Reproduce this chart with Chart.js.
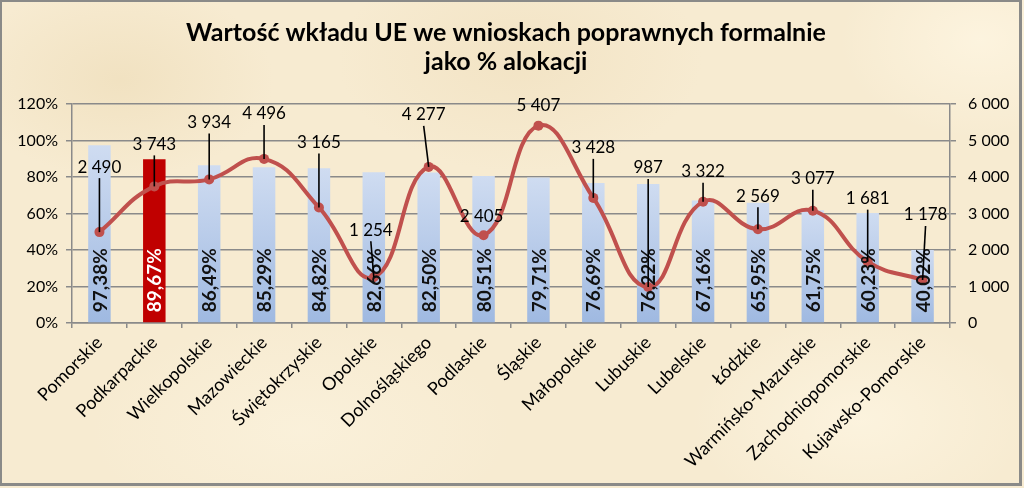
<!DOCTYPE html>
<html><head><meta charset="utf-8">
<script src="https://cdn.jsdelivr.net/npm/chart.js@4.4.1/dist/chart.umd.min.js"></script>
<style>
html,body{margin:0;padding:0;width:1024px;height:488px;overflow:hidden;}
body{
  background:
    radial-gradient(ellipse 220px 140px at 120px 80px, rgba(236,218,180,0.55), rgba(236,218,180,0) 70%),
    radial-gradient(ellipse 260px 160px at 520px 60px, rgba(238,220,184,0.5), rgba(238,220,184,0) 70%),
    radial-gradient(ellipse 240px 150px at 860px 420px, rgba(255,248,230,0.6), rgba(255,248,230,0) 70%),
    radial-gradient(ellipse 300px 160px at 300px 430px, rgba(252,244,224,0.6), rgba(252,244,224,0) 70%),
    radial-gradient(ellipse 200px 140px at 980px 40px, rgba(255,247,228,0.7), rgba(255,247,228,0) 70%),
    #f7ebd1;
}
#wrap{position:absolute;left:0;top:0;width:1024px;height:488px;}
#frame{position:absolute;left:0;top:0;width:1017px;height:481px;border:2px solid #8a8a88;border-right-width:3px;border-bottom-width:3px;pointer-events:none;}
</style></head>
<body>
<div id="wrap"><canvas id="c" width="1024" height="488"></canvas></div>
<div id="frame"></div>
<script>
const titleLines = ['Wartość wkładu UE we wnioskach poprawnych formalnie', 'jako % alokacji'];
const categories = ['Pomorskie','Podkarpackie','Wielkopolskie','Mazowieckie','Świętokrzyskie','Opolskie','Dolnośląskiego','Podlaskie','Śląskie','Małopolskie','Lubuskie','Lubelskie','Łódzkie','Warmińsko-Mazurskie','Zachodniopomorskie','Kujawsko-Pomorskie'];
const percentValues = [97.38, 89.67, 86.49, 85.29, 84.82, 82.66, 82.50, 80.51, 79.71, 76.69, 76.22, 67.16, 65.95, 61.75, 60.23, 40.02];
const euValues = [2490, 3743, 3934, 4496, 3165, 1254, 4277, 2405, 5407, 3428, 987, 3322, 2569, 3077, 1681, 1178];
const highlightIndex = 1;
const leftTickMax = 120, leftTickStep = 20;
const rightTickMax = 6000, rightTickStep = 1000;

const FONT = 'Lato';
Chart.defaults.font.family = FONT;
Chart.defaults.color = '#000';

function fmtPct(v){ return v.toFixed(2).replace('.', ',') + '%'; }
function fmtNum(v){ return String(Math.round(v)).replace(/\B(?=(\d{3})+(?!\d))/g, ' '); }

const labelPlugin = {
  id: 'customLabels',
  beforeDraw(chart, args, opts){
    const ctx = chart.ctx;
    ctx.save();
    ctx.fillStyle = '#000';
    ctx.font = 'bold 25px ' + FONT;
    ctx.textAlign = 'center';
    ctx.textBaseline = 'middle';
    ctx.fillText(titleLines[0], 506, 33);
    ctx.fillText(titleLines[1], 506, 62);
    ctx.restore();
  },
  afterDatasetsDraw(chart, args, opts){
    const ctx = chart.ctx;
    const barMeta = chart.getDatasetMeta(0);
    const lineMeta = chart.getDatasetMeta(1);
    ctx.save();
    ctx.font = 'bold 19px ' + FONT;
    ctx.textAlign = 'left';
    ctx.textBaseline = 'middle';
    barMeta.data.forEach((bar, i) => {
      ctx.save();
      ctx.translate(bar.x + 1, bar.base - 10);
      ctx.rotate(-Math.PI / 2);
      ctx.fillStyle = i === highlightIndex ? '#ffffff' : '#111111';
      ctx.fillText(fmtPct(percentValues[i]), 0, 0);
      ctx.restore();
    });
    ctx.font = '17px ' + FONT;
    ctx.textAlign = 'center';
    lineMeta.data.forEach((pt, i) => {
      const off = opts.offsets[i];
      const lx = pt.x + off[0], ly = pt.y + off[1];
      const sy = ly + 11;
      if (pt.y - sy > 10) {
        ctx.beginPath();
        ctx.strokeStyle = '#000';
        ctx.lineWidth = 1.6;
        ctx.moveTo(lx, sy);
        ctx.lineTo(pt.x, pt.y);
        ctx.stroke();
      }
      ctx.fillStyle = '#000';
      ctx.fillText(fmtNum(euValues[i]), lx, ly);
    });
    ctx.restore();
  }
};

function barColor(context){
  const i = context.dataIndex;
  const chart = context.chart;
  if (i === highlightIndex) return '#c00000';
  if (!chart.chartArea || !chart.scales.y) return '#c3d4ed';
  const ys = chart.scales.y;
  const top = ys.getPixelForValue(percentValues[i]);
  const bot = ys.getPixelForValue(0);
  const g = chart.ctx.createLinearGradient(0, top, 0, bot);
  g.addColorStop(0, '#cfdcf1');
  g.addColorStop(1, '#9fb9e1');
  return g;
}

const axisColor = '#8a8a8a';

new Chart(document.getElementById('c'), {
  data: {
    labels: categories,
    datasets: [
      {
        type: 'bar',
        data: percentValues,
        yAxisID: 'y',
        backgroundColor: barColor,
        borderWidth: 0,
        categoryPercentage: 1,
        barPercentage: 0.41,
        order: 2
      },
      {
        type: 'line',
        data: euValues,
        yAxisID: 'y2',
        borderColor: '#c0504d',
        backgroundColor: '#c0504d',
        borderWidth: 4,
        pointRadius: 5,
        pointBackgroundColor: '#c0504d',
        pointBorderWidth: 0,
        tension: 0.45,
        fill: false,
        order: 1
      }
    ]
  },
  options: {
    responsive: false,
    animation: false,
    devicePixelRatio: 1,
    layout: { padding: { top: 104, left: 0, right: 0, bottom: 0 } },
    plugins: {
      legend: { display: false },
      tooltip: { enabled: false },
      customLabels: {
        offsets: [[0,-65],[0,-42],[0,-57],[0,-45],[0,-65],[-3,-47],[-5,-52],[-2,-19],[0,-20],[0,-50],[0,-119],[0,-30],[0,-33],[0,-32],[0,-63],[3,-65]]
      }
    },
    scales: {
      x: {
        offset: true,
        grid: { offset: true, drawOnChartArea: false, drawTicks: true, tickLength: 5, color: axisColor, lineWidth: 1.5 },
        border: { display: true, color: axisColor, width: 1.5 },
        ticks: { minRotation: 45, maxRotation: 45, autoSkip: false, padding: 4, font: { size: 18, family: FONT }, color: '#000' },
        afterFit(s){ s.height = 165; }
      },
      y: {
        position: 'left',
        min: 0, max: leftTickMax,
        ticks: { stepSize: leftTickStep, padding: 8, callback: v => v + '%', font: { size: 16, family: FONT }, color: '#000' },
        grid: { drawOnChartArea: true, drawTicks: true, tickLength: 6, color: axisColor, lineWidth: 1.5 },
        border: { display: true, color: axisColor, width: 1.5 },
        afterFit(s){ s.width = 72; }
      },
      y2: {
        position: 'right',
        min: 0, max: rightTickMax,
        ticks: { stepSize: rightTickStep, padding: 12, callback: v => fmtNum(v), font: { size: 16, family: FONT }, color: '#000' },
        grid: { drawOnChartArea: false, drawTicks: true, tickLength: 6, color: axisColor, lineWidth: 1.5 },
        border: { display: true, color: axisColor, width: 1.5 },
        afterFit(s){ s.width = 74; }
      }
    }
  },
  plugins: [labelPlugin]
});
</script>
</body></html>
